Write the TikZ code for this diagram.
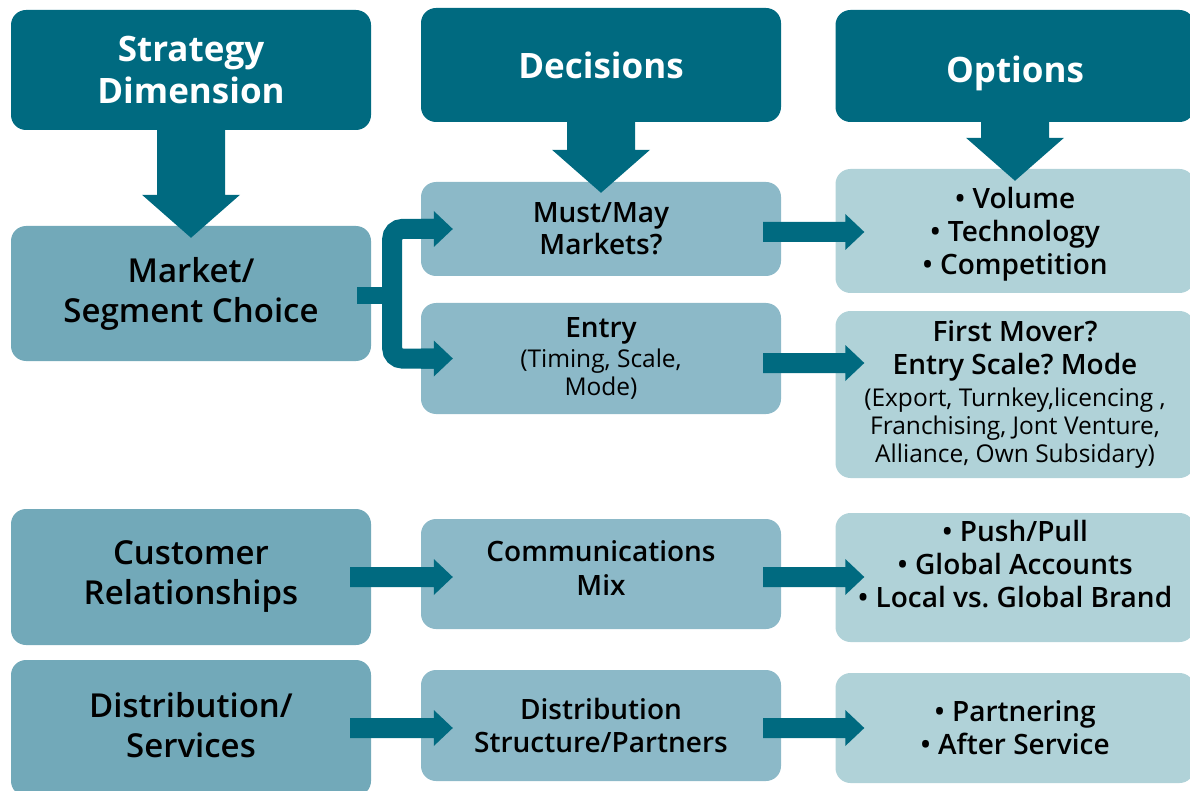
\documentclass[tikz,border=0pt]{standalone}
\usepackage{fontspec}
\setmainfont{Open Sans}
\newfontfamily\semib{Open Sans Semibold}
\frenchspacing
\usetikzlibrary{calc}
\definecolor{headteal}{HTML}{006A80}
\definecolor{dimblue}{HTML}{72A9B9}
\definecolor{decblue}{HTML}{8CB9C8}
\definecolor{optblue}{HTML}{B0D2D8}
\tikzstyle{box}=    [rectangle,
rounded corners=15pt,
align=center,
inner sep=2pt,
minimum width=360pt,
]
\tikzstyle{head}=   [box,
fill=headteal,
text=white,
font=\fontsize{35}{42}\selectfont\bfseries,
]
\tikzstyle{dim}=    [box,
fill=dimblue,
font=\fontsize{33}{40}\selectfont\semib,
]
\tikzstyle{dec}=    [box,
fill=decblue,
font=\fontsize{28}{33}\selectfont\semib,
]
\tikzstyle{opt}=    [box,
fill=optblue,
minimum width=359pt,
font=\fontsize{28}{33}\selectfont\semib,
]
\tikzstyle{fork}=   [draw=headteal,
line width=20pt,
rounded corners=10pt,
]
\tikzstyle{harrow}= [fill=headteal,
to path={($(\tikztostart)+(0,-10)$) -- ($(\tikztotarget)+(-19,-10)$) -- ($(\tikztotarget)+(-19,-18)$) -- (\tikztotarget) -- ($(\tikztotarget)+(-19,18)$) -- ($(\tikztotarget)+(-19,10)$) -- ($(\tikztostart)+(0,10)$) -- cycle},
]
\tikzstyle{varrow}= [fill=headteal,
to path={($(\tikztostart)+(-34,0)$) -- ($(\tikztotarget)+(-34,-43)$) -- ($(\tikztotarget)+(-49,-43)$) -- (\tikztotarget) -- ($(\tikztotarget)+(49,-43)$) -- ($(\tikztotarget)+(34,-43)$) -- ($(\tikztostart)+(34,0)$) -- cycle},
]

\begin{document}
\begin{tikzpicture}[x=1pt, y=-1pt]
        \useasboundingbox (0,0) rectangle (1190,791);
        % column heads
        \node[head, minimum height=120pt] (strat) at (191,70) {Strategy\\Dimension};
        \node[head, minimum height=114pt] (decs) at (601,65) {Decisions};
        \node[head, minimum height=112pt, minimum width=359pt, text height=42pt] (opts) at (1015,66) {Options};
        % market / segment choice
        \node[dim, minimum height=135pt] (market) at (191,293.5) {Market/\\Segment Choice};
        \node[dec, minimum height=94pt] (must) at (601,229) {Must/May\\[-1pt]Markets?};
        \node[dec, minimum height=111pt] (entry) at (601,358.5) {Entry\\[-3pt]{\fontsize{24.5}{28}\selectfont\normalfont (Timing, Scale,}\\[-5pt]{\fontsize{24.5}{28}\selectfont\normalfont Mode)}};
        \node[opt, minimum height=124pt, text depth=-4pt] (vol) at (1015,231) {\textbullet\ Volume\\\textbullet\ Technology\\\textbullet\ Competition};
        \node[opt, minimum height=167pt] (first) at (1015,394.5) {First Mover?\\Entry Scale? Mode\\[-1pt]{\fontsize{24.5}{28}\selectfont\normalfont (Export, Turnkey,licencing ,}\\[-5pt]{\fontsize{24.5}{28}\selectfont\normalfont Franchising, Jont Venture,}\\[-5pt]{\fontsize{24.5}{28}\selectfont\normalfont Alliance, Own Subsidary)}};
        % customer relationships
        \node[dim, minimum height=136pt] (cust) at (191,577) {Customer\\Relationships};
        \node[dec, minimum height=110pt, text depth=12pt] (comm) at (601,574) {Communications\\[1pt]Mix};
        \node[opt, minimum height=129pt, text depth=27pt] (push) at (1015,577.5) {\textbullet\ Push/Pull\\\textbullet\ Global Accounts\\\textbullet\ Local vs. Global Brand};
        % distribution / services
        \node[dim, minimum height=136pt, text depth=6pt] (dist) at (191,728) {Distribution/\\Services};
        \node[dec, minimum height=111pt] (diststr) at (601,725.5) {Distribution\\Structure/Partners};
        \node[opt, minimum height=110pt] (partner) at (1015,728) {\textbullet\ Partnering\\\textbullet\ After Service};

        \coordinate (stratTip) at ([yshift=-12pt]market.north);
        \coordinate (decsTip) at ([yshift=-11pt]must.north);
        \coordinate (optsTip) at ([yshift=-12pt]vol.north);
        \coordinate (bar) at ($(market.east)+(21,0)$);
        \coordinate (mustTip) at ($(must.west)+(32,0)$);
        \coordinate (entryTip) at ($(entry.west)+(32,0)$);
        \coordinate (volTip) at ($(vol.west |- must.east)+(29,3)$);
        \coordinate (firstTip) at ($(first.west |- entry.east)+(29,4.5)$);
        \coordinate (commTip) at ($(comm.west |- cust.east)+(32,0)$);
        \coordinate (pushTip) at ($(push.west |- comm.east)+(29,3)$);
        \coordinate (diststrTip) at ($(diststr.west |- dist.east)+(32,0)$);
        \coordinate (partnerTip) at ($(partner.west |- diststr.east)+(29,2.5)$);

        \path[varrow] (strat.south) to (stratTip);
        \path[varrow] (decs.south) to (decsTip);
        \path[varrow] (opts.south) to (optsTip);
        \draw[fork, line width=17pt] ($(market.east)+(-14,2.5)$) -- ($(bar)+(0,2.5)$);
        \draw[fork] ($(must.west)+(14,0)$) -| (bar) |- ($(entry.west)+(14,0)$);
        \path[harrow] (must.west) to (mustTip);
        \path[harrow] (entry.west) to (entryTip);
        \path[harrow] ($(must.east)+(-18,3)$) to (volTip);
        \path[harrow] ($(entry.east)+(-18,4.5)$) to (firstTip);
        \path[harrow] ($(cust.east)+(-21,0)$) to (commTip);
        \path[harrow] ($(comm.east)+(-18,3)$) to (pushTip);
        \path[harrow] ($(dist.east)+(-21,0)$) to (diststrTip);
        \path[harrow] ($(diststr.east)+(-18,2.5)$) to (partnerTip);
    \end{tikzpicture}
\end{document}
